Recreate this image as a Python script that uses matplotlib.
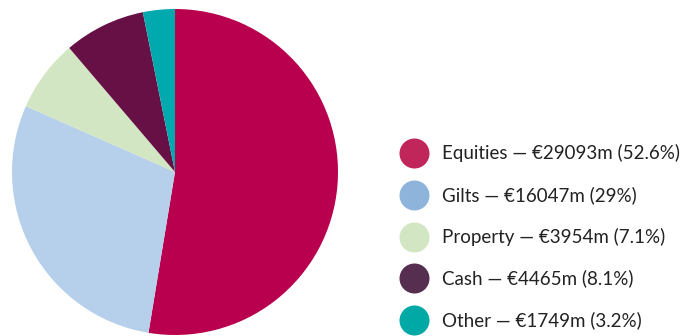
import matplotlib
matplotlib.use("Agg")
import matplotlib.pyplot as plt

categories = ["Equities", "Gilts", "Property", "Cash", "Other"]
values_m = [29093, 16047, 3954, 4465, 1749]
shares = ["52.6%", "29%", "7.1%", "8.1%", "3.2%"]
slice_colors = ["#B8004E", "#B6D0EC", "#D3E6C3", "#661046", "#00A9AE"]
legend_colors = ["#C0265A", "#8FB4DC", "#D3E6C3", "#552E50", "#00A9A5"]

W, H = 698, 336
fig = plt.figure(figsize=(W / 100, H / 100), dpi=100)

# pie drawn clockwise from 12 o'clock
ax = fig.add_axes([12 / W, 1 / H, 326 / W, 326 / H])
ax.pie(values_m, colors=slice_colors, startangle=90, counterclock=False,
       wedgeprops=dict(linewidth=0))
ax.set_xlim(-1, 1)
ax.set_ylim(-1, 1)
ax.set_aspect("equal")
ax.axis("off")

# legend in pixel coordinates
lg = fig.add_axes([0, 0, 1, 1])
lg.set_xlim(0, W)
lg.set_ylim(H, 0)
lg.axis("off")
y0, dy = 153, 41.8
for i, (cat, v, s) in enumerate(zip(categories, values_m, shares)):
    y = y0 + i * dy
    lg.scatter([414], [y], s=(30 * 0.72) ** 2, color=legend_colors[i], linewidths=0)
    lg.text(442, y, f"{cat} \u2014 \u20ac{v}m ({s})", fontsize=13.5, family="Lato",
            color="#222222", va="center", ha="left")

fig.savefig("out.png", dpi=100)
